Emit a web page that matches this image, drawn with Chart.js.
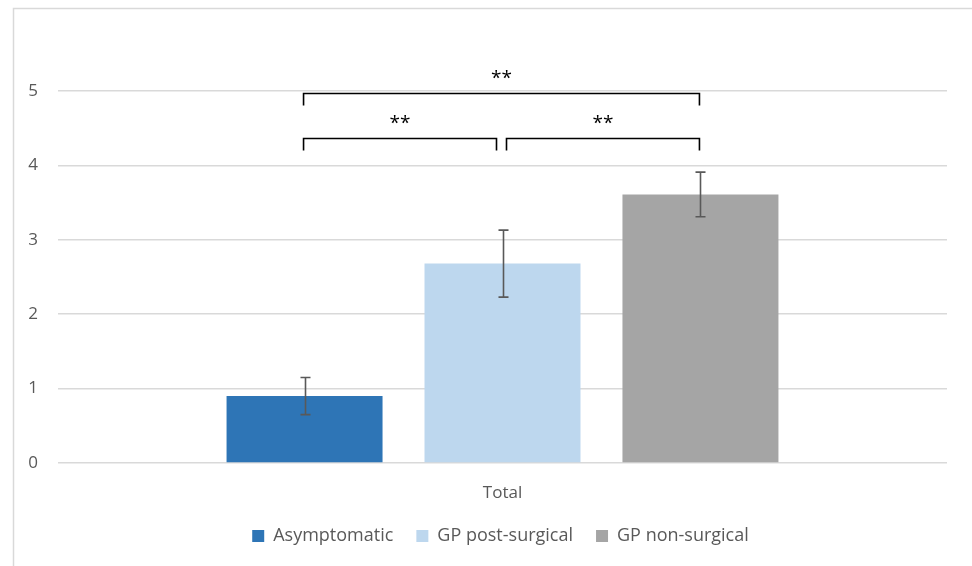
<!DOCTYPE html>
<html>
<head>
<meta charset="utf-8">
<script src="https://cdn.jsdelivr.net/npm/chart.js@4/dist/chart.umd.min.js"></script>
<style>
  html, body { margin: 0; padding: 0; background: #ffffff; }
  #wrap { width: 972px; height: 566px; position: relative; }
</style>
</head>
<body>
<div id="wrap"><canvas id="chart" width="972" height="566"></canvas></div>
<script>
// Group shown on the x axis
const categories = ['Total'];

// Series names, means and error (± half-length of each bar)
const seriesNames = ['Asymptomatic', 'GP post-surgical', 'GP non-surgical'];
const asymptomatic = [0.9];
const gpPostSurgical = [2.68];
const gpNonSurgical = [3.61];
const errorAmounts = [0.25, 0.45, 0.3];

// Y axis ticks
const yTicks = [0, 1, 2, 3, 4, 5];

// Significance brackets: [from series, to series, level on y axis, label]
const brackets = [
  [0, 2, 4.97, '**'],
  [0, 1, 4.37, '**'],
  [1, 2, 4.37, '**']
];

const colors = ['#2E75B6', '#BDD7EE', '#A5A5A5'];
const seriesValues = [asymptomatic, gpPostSurgical, gpNonSurgical];

const FONT = '"Open Sans", "Liberation Sans", sans-serif';

// Outer frame of the chart
const framePlugin = {
  id: 'frame',
  beforeDraw(chart) {
    const ctx = chart.ctx;
    ctx.save();
    ctx.fillStyle = '#ffffff';
    ctx.fillRect(0, 0, chart.width, chart.height);
    ctx.strokeStyle = '#d9d9d9';
    ctx.lineWidth = 1.5;
    ctx.strokeRect(13.5, 8.5, chart.width + 20, chart.height + 20);
    ctx.restore();
  }
};

// Centre the legend under the whole frame rather than the padded box
const legendShiftPlugin = {
  id: 'legendShift',
  afterLayout(chart) {
    const lg = chart.legend;
    if (lg) { lg.left += 27; lg.right += 27; }
  }
};

// Vertical error bars with caps
const errorBarPlugin = {
  id: 'errorBars',
  afterDatasetsDraw(chart) {
    const ctx = chart.ctx;
    const y = chart.scales.y;
    ctx.save();
    ctx.strokeStyle = '#595959';
    ctx.lineWidth = 1.6;
    chart.data.datasets.forEach((ds, di) => {
      const meta = chart.getDatasetMeta(di);
      meta.data.forEach((bar, i) => {
        const v = ds.data[i];
        const e = errorAmounts[di];
        const yTop = y.getPixelForValue(v + e);
        const yBot = y.getPixelForValue(v - e);
        const x = Math.round(bar.x) + 0.5;
        const cap = 5;
        ctx.beginPath();
        ctx.moveTo(x, yTop); ctx.lineTo(x, yBot);
        ctx.moveTo(x - cap, yTop); ctx.lineTo(x + cap, yTop);
        ctx.moveTo(x - cap, yBot); ctx.lineTo(x + cap, yBot);
        ctx.stroke();
      });
    });
    ctx.restore();
  }
};

// Significance brackets with star labels
const bracketPlugin = {
  id: 'brackets',
  afterDatasetsDraw(chart) {
    const ctx = chart.ctx;
    const y = chart.scales.y;
    ctx.save();
    ctx.strokeStyle = '#000000';
    ctx.lineWidth = 1.6;
    ctx.fillStyle = '#000000';
    ctx.font = '19px ' + FONT;
    ctx.textAlign = 'center';
    ctx.textBaseline = 'middle';
    const tick = 12;
    const gap = 5;
    brackets.forEach(([a, b, level, label]) => {
      let xa = chart.getDatasetMeta(a).data[0].x;
      let xb = chart.getDatasetMeta(b).data[0].x;
      // where two brackets of one level meet on a bar, keep them apart
      if (brackets.some(o => o[2] === level && o[1] === a)) xa += gap;
      if (brackets.some(o => o[2] === level && o[0] === b)) xb -= gap;
      xa -= 1; xb -= 1;
      const yl = Math.round(y.getPixelForValue(level)) + 0.5;
      ctx.beginPath();
      ctx.moveTo(xa, yl + tick);
      ctx.lineTo(xa, yl);
      ctx.lineTo(xb, yl);
      ctx.lineTo(xb, yl + tick);
      ctx.stroke();
      ctx.fillText(label, (xa + xb) / 2, yl - 15);
    });
    ctx.restore();
  }
};

const datasets = seriesNames.map((name, i) => ({
  label: name,
  data: seriesValues[i],
  backgroundColor: colors[i],
  borderWidth: 0,
  categoryPercentage: 0.668,
  barPercentage: 0.788
}));

new Chart(document.getElementById('chart'), {
  type: 'bar',
  data: { labels: categories, datasets },
  options: {
    responsive: false,
    animation: false,
    devicePixelRatio: 1,
    layout: { padding: { top: 91, right: 25, bottom: 11, left: 0 } },
    plugins: {
      tooltip: { enabled: false },
      legend: {
        position: 'bottom',
        labels: {
          color: '#595959',
          font: { family: FONT, size: 18 },
          boxWidth: 12,
          boxHeight: 12,
          padding: 23
        }
      }
    },
    scales: {
      x: {
        grid: { display: false },
        border: { display: false },
        ticks: { color: '#595959', font: { family: FONT, size: 17 }, padding: 12 },
        afterFit(scale) { scale.height = 41; }
      },
      y: {
        min: 0,
        max: 5,
        afterBuildTicks(scale) { scale.ticks = yTicks.map(v => ({ value: v })); },
        grid: { color: '#d9d9d9', lineWidth: 1.5, drawTicks: false },
        border: { display: false },
        ticks: { color: '#595959', font: { family: FONT, size: 17 }, padding: 20 },
        afterFit(scale) { scale.width = 58; }
      }
    }
  },
  plugins: [framePlugin, legendShiftPlugin, errorBarPlugin, bracketPlugin]
});
</script>
</body>
</html>
